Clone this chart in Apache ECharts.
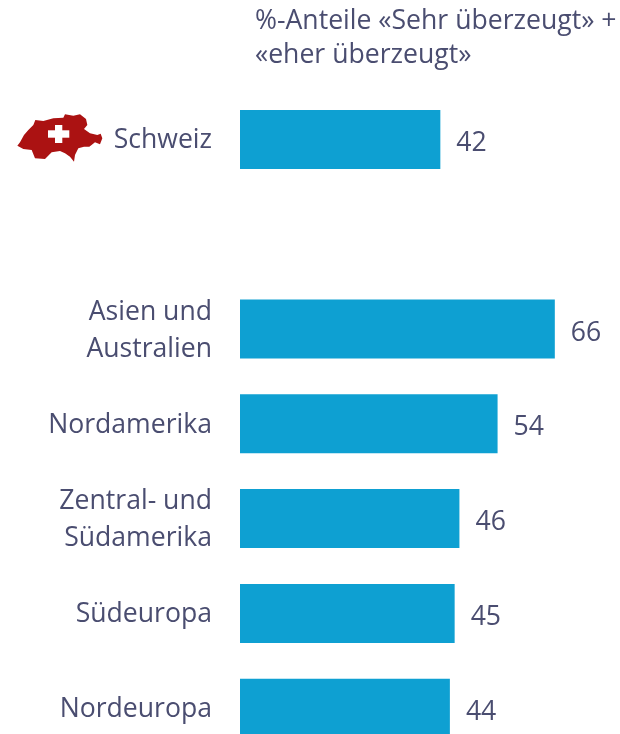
<!DOCTYPE html>
<html><head><meta charset="utf-8">
<style>html,body{margin:0;padding:0;background:#fff}#c{width:620px;height:734px}</style>
<script src="https://cdn.jsdelivr.net/npm/echarts@6/dist/echarts.min.js"></script>
</head><body><div id="c"></div>
<script>
const categories = ['Schweiz', '', 'Asien und\nAustralien', 'Nordamerika', 'Zentral- und\nSüdamerika', 'Südeuropa', 'Nordeuropa'];
const values = [42, null, 66, 54, 46, 45, 44];
const headerLines = '%-Anteile «Sehr überzeugt» +\n«eher überzeugt»';
const textColor = '#4a4d70', barColor = '#0ea0d2', fontName = '"Open Sans"';
const outline = [[22,122],[30,112],[42,90],[55,75],[70,60],[76,45],[100,48],[130,40],[160,38],[165,28],[190,32],[210,28],[228,42],[232,60],[222,72],[240,85],[262,90],[272,86],[277,100],[270,118],[255,112],[238,125],[222,125],[205,130],[195,150],[192,170],[180,155],[165,145],[150,138],[125,142],[105,162],[75,160],[65,135],[40,132]].map(p=>[p[0]/3+10,p[1]/3+105]);
const chart = echarts.init(document.getElementById('c'), null, {renderer:'canvas'});
chart.setOption({
  animation:false,
  grid:{left:240,top:92,width:477,height:663.6,outerBoundsMode:'none'},
  xAxis:{type:'value',min:0,max:100,show:false},
  yAxis:{type:'category',inverse:true,data:categories,
    axisLine:{show:false},axisTick:{show:false},
    axisLabel:{margin:28,align:'right',
      formatter:v=>v?v.split('\n').map(l=>'{a|'+l+'}').join('\n'):'',
      rich:{a:{color:textColor,fontFamily:fontName,fontSize:26.6,lineHeight:37,padding:[3,0,0,0]}}}},
  series:[{type:'bar',data:values,barWidth:59,itemStyle:{color:barColor},
    label:{show:true,position:'right',distance:16,offset:[0,4],color:textColor,fontFamily:fontName,fontSize:26.6,padding:[2,0,0,0]}}],
  graphic:[
    {type:'text',left:255,top:4,style:{text:headerLines,fill:textColor,font:'26.6px "Open Sans"',lineHeight:34}},
    {type:'polygon',shape:{points:outline},style:{fill:'#ab1212'}},
    {type:'rect',shape:{x:48,y:130.3,width:21.3,height:7.4},style:{fill:'#fff'}},
    {type:'rect',shape:{x:55,y:125,width:7.3,height:18},style:{fill:'#fff'}}
  ]
});
</script></body></html>
